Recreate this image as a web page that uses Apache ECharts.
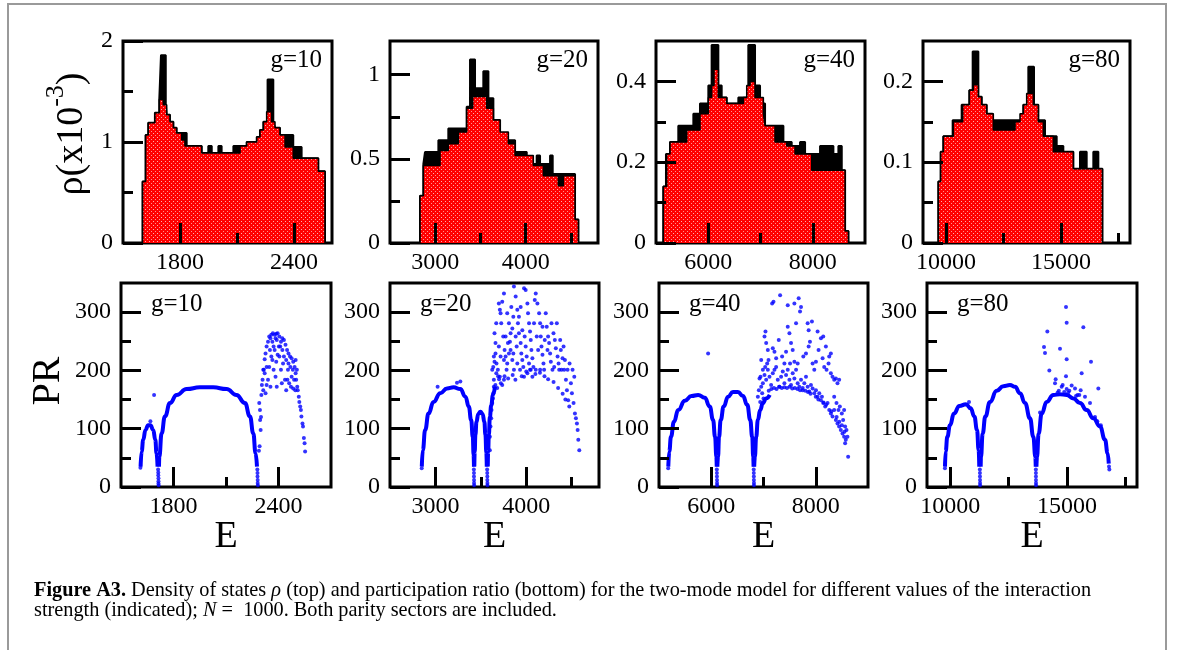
<!DOCTYPE html>
<html><head><meta charset="utf-8">
<script src="https://cdn.jsdelivr.net/npm/echarts@6/dist/echarts.min.js"></script>
<style>html,body{margin:0;padding:0;background:#fff}#c{width:1182px;height:650px}</style>
</head><body><div id="c"></div>
<script>
// ---------- tick labels ----------
const xTicksG10 = [1800, 2400], xMinorG10 = [2100];
const xTicksG20 = [3000, 4000], xMinorG20 = [3500, 4500];
const xTicksG40 = [6000, 8000], xMinorG40 = [7000];
const xTicksG80 = [10000, 15000], xMinorG80 = [12500, 17500];
const yTicksRho10 = [0, 1, 2], yMinorRho10 = [0.5, 1.5];
const yTicksRho20 = [0, 0.5, 1], yMinorRho20 = [0.25, 0.75];
const yTicksRho40 = [0, 0.2, 0.4], yMinorRho40 = [0.1, 0.3];
const yTicksRho80 = [0, 0.1, 0.2], yMinorRho80 = [0.05, 0.15];
const yTicksPR = [0, 100, 200, 300], yMinorPR = [50, 150, 250];
const panelLabels = ['g=10', 'g=20', 'g=40', 'g=80'];

// ---------- density of states (x10^-3), step histograms [left edge, height] ----------
const rhoRedG10 = [[1603,0.61],[1619,1.07],[1633,1.19],[1668,1.29],[1691,1.42],[1712,1.37],[1730,1.27],[1747,1.20],[1765,1.14],[1782,1.09],[1809,1.02],[1826,0.96],[1914,0.89],[2116,0.96],[2151,1.00],[2204,1.05],[2221,1.12],[2239,1.20],[2256,1.30],[2282,1.20],[2300,1.14],[2326,1.07],[2353,0.95],[2396,0.84],[2528,0.71],[2563,0]];
const rhoBlackG10 = [[1603,0.61],[1619,1.07],[1633,1.19],[1668,1.29],[1691,1.42],[1700,1.86],[1725,1.37],[1730,1.27],[1747,1.20],[1765,1.14],[1782,1.09],[1835,0.96],[1914,0.89],[1949,0.96],[1967,0.89],[2002,0.96],[2019,0.89],[2081,0.96],[2151,1.00],[2204,1.05],[2221,1.12],[2239,1.20],[2261,1.62],[2291,1.20],[2300,1.14],[2326,1.07],[2396,0.95],[2440,0.84],[2528,0.71],[2563,0]];
const rhoRedG20 = [[2832,0.28],[2869,0.46],[3053,0.55],[3145,0.59],[3256,0.66],[3348,0.80],[3414,0.87],[3569,0.80],[3643,0.73],[3717,0.66],[3809,0.59],[3883,0.52],[4085,0.46],[4196,0.40],[4362,0.34],[4417,0.40],[4546,0.14],[4583,0]];
const rhoBlackG20 = [[2832,0.28],[2869,0.47],[2887,0.54],[3035,0.61],[3145,0.68],[3348,0.81],[3385,1.09],[3440,0.92],[3532,1.02],[3588,0.86],[3643,0.73],[3717,0.61],[3883,0.54],[4012,0.47],[4122,0.52],[4159,0.47],[4270,0.52],[4299,0.41],[4546,0.14],[4583,0]];
const rhoRedG40 = [[5140,0.14],[5204,0.22],[5268,0.25],[5587,0.28],[5842,0.32],[6002,0.36],[6065,0.39],[6110,0.43],[6193,0.36],[6353,0.345],[6672,0.36],[6736,0.39],[6799,0.40],[6895,0.36],[7055,0.32],[7087,0.29],[7278,0.25],[7502,0.24],[7661,0.22],[7980,0.18],[8619,0.03],[8683,0]];
const rhoBlackG40 = [[5140,0.14],[5191,0.22],[5268,0.25],[5427,0.29],[5715,0.32],[5842,0.345],[6002,0.39],[6065,0.49],[6193,0.39],[6257,0.36],[6353,0.345],[6576,0.36],[6767,0.49],[6895,0.39],[6991,0.345],[7087,0.29],[7438,0.25],[7597,0.24],[7757,0.25],[7853,0.22],[8140,0.24],[8395,0.22],[8491,0.24],[8555,0.18],[8619,0.03],[8683,0]];
const rhoRedG80 = [[9667,0.076],[9768,0.113],[9884,0.132],[10319,0.150],[10725,0.171],[11015,0.189],[11189,0.196],[11406,0.181],[11551,0.171],[11768,0.160],[12058,0.140],[13000,0.150],[13217,0.160],[13362,0.171],[13507,0.185],[13797,0.171],[14014,0.150],[14232,0.132],[14667,0.113],[15536,0.092],[16800,0]];
const rhoBlackG80 = [[9667,0.076],[9768,0.113],[9884,0.132],[10290,0.152],[10681,0.171],[11015,0.189],[11160,0.237],[11406,0.181],[11551,0.171],[11768,0.160],[12029,0.152],[13000,0.152],[13362,0.171],[13580,0.218],[13826,0.171],[14014,0.152],[14304,0.132],[14812,0.120],[15101,0.113],[15536,0.092],[15826,0.113],[16116,0.092],[16406,0.113],[16623,0.092],[16800,0]];

// ---------- participation ratio: dense regular branches [E, PR] ----------
const prArcsG10 = [
  [[1612,35],[1618,61],[1627,81],[1640,98],[1655,106],[1668,106],[1684,98],[1696,81],[1703,58],[1709,35]],
  [[1717,35],[1719,52],[1732,92],[1751,121],[1780,144],[1818,158],[1875,168],[1951,171],[2027,171],[2103,168],[2160,158],[2208,144],[2237,121],[2256,92],[2269,58],[2277,35]]
];
const prArcsG20 = [
  [[2850,35],[2861,63],[2887,98],[2924,126],[2979,146],[3053,161],[3127,169],[3200,171],[3274,168],[3330,155],[3367,138],[3393,115],[3411,86],[3420,55],[3424,35]],
  [[3428,35],[3432,60],[3440,90],[3452,112],[3470,125],[3495,129],[3520,125],[3538,112],[3550,90],[3560,60],[3565,35]],
  [[3576,35],[3580,60],[3588,90],[3599,120],[3614,140],[3633,158],[3655,172]]
];
const prArcsG40 = [
  [[5178,35],[5197,61],[5229,86],[5286,112],[5368,132],[5495,148],[5622,156],[5749,158],[5876,153],[5971,138],[6035,115],[6073,86],[6098,52],[6105,35]],
  [[6117,35],[6130,52],[6149,86],[6181,115],[6238,138],[6321,155],[6416,163],[6511,163],[6606,156],[6689,141],[6746,115],[6784,86],[6803,52],[6810,35]],
  [[6822,35],[6835,52],[6860,86],[6892,115],[6937,132],[6987,144],[7051,152],[7120,158]]
];
const prArcsG80 = [
  [[9771,35],[9800,61],[9871,86],[9986,106],[10157,126],[10386,139],[10671,142],[10871,135],[11029,121],[11143,98],[11214,63],[11240,35]],
  [[11300,35],[11314,52],[11386,92],[11500,121],[11700,146],[11986,165],[12271,173],[12557,175],[12771,172],[12986,161],[13200,144],[13414,118],[13557,86],[13643,52],[13660,35]],
  [[13690,35],[13714,52],[13786,92],[13914,126],[14129,146],[14414,158],[14700,159],[14986,158],[15271,152],[15557,144],[15843,132],[16129,118],[16414,104],[16629,81],[16743,58],[16790,40]]
];

// ---------- participation ratio: individual states [E, PR] ----------
const prDotsG10 = [[1611,33],[1712,30],[1713,25],[1713,20],[1714,15],[1714,10],[1714,6],[1715,3],[2279,30],[2280,24],[2280,18],[2281,12],[2281,7],[2282,3],[1689,158],[1668,113],
[2290,144],[2294,132],[2298,98],[2302,158],[2305,175],[2309,184],[2313,201],[2316,201],[2321,219],[2326,229],[2332,241],[2340,249],[2347,258],[2354,255],[2359,261],[2368,264],[2378,261],[2387,263],[2395,264],[2405,258],[2383,255],[2365,249],[2372,241],[2390,252],[2402,241],[2414,249],[2422,255],[2431,252],[2440,244],[2449,235],[2457,229],[2466,224],[2475,221],[2484,215],[2492,206],[2498,195],[2501,184],[2507,172],[2510,166],[2516,155],[2519,146],[2524,138],[2528,132],[2531,121],[2537,109],[2540,104],[2545,84],[2549,75],[2552,61],
[2332,175],[2340,184],[2354,172],[2365,218],[2372,201],[2383,189],[2390,172],[2405,224],[2414,201],[2419,178],[2426,212],[2437,184],[2444,166],[2454,201],[2461,178],[2468,206],[2475,189],[2484,169],[2489,184],[2498,218],[2505,201],[2351,235],[2359,224],[2378,235],[2395,227],[2422,235],[2431,224],[2444,218],[2321,195],[2326,161],[2313,166],[2347,206],[2332,206],[2387,215],[2410,241],[2457,212],[2471,172],[2482,201],[2496,166],[2451,184],[2288,62],[2292,70],[2295,115],[2300,120]];
const prDotsG20 = [[2849,32],[3423,30],[3424,24],[3424,18],[3425,12],[3425,7],[3426,3],[3569,30],[3570,24],[3571,18],[3571,12],[3572,7],[3572,3],[3024,172],[3237,179],[3274,181],
[3599,63],[3599,86],[3606,104],[3614,118],[3617,132],[3625,144],[3632,152],[3636,161],[3643,172],[3643,184],[3625,201],[3636,206],[3650,215],[3643,224],[3661,229],[3650,264],[3669,281],[3661,247],
[3698,315],[3709,304],[3717,298],[3735,318],[3754,332],[3724,281],[3746,258],[3761,235],[3772,224],[3687,201],[3709,189],[3735,175],[3754,184],[3783,201],[3790,212],[3809,229],[3820,249],[3827,264],[3846,272],[3857,292],[3864,344],[3883,327],[3901,304],[3908,281],[3919,264],[3938,247],[3945,229],[3956,218],[3967,206],[3975,341],[3993,338],[4012,315],[4019,298],[4030,281],[4041,267],[4049,252],[4056,235],[4067,221],[4078,206],[4093,321],[4104,332],[4122,315],[4141,298],[4152,281],[4159,258],[4167,241],[4178,227],[4189,212],[4196,201],[4214,298],[4225,275],[4240,258],[4251,247],[4262,229],[4270,215],[4288,201],[4299,264],[4314,252],[4325,238],[4344,224],[4355,212],[4373,252],[4380,235],[4399,221],[4417,201],[4436,184],[4447,166],[4461,149],[4473,138],[4491,178],[4502,161],[4520,144],[4535,126],[4546,118],[4557,109],[4565,98],[4572,81],[4583,63],
[3790,298],[3809,281],[3827,235],[3846,218],[3864,201],[3883,258],[3894,241],[3919,292],[3938,309],[3956,269],[3982,258],[3993,241],[4004,224],[4030,212],[4049,201],[4085,281],[4115,258],[4130,235],[4152,201],[4178,275],[4203,252],[4233,235],[4277,281],[4307,206],[4336,281],[4362,201],[4388,201],[4410,241],[4425,218],[4454,201],[4476,212],[4509,201],[4528,189],[3717,224],[3698,241],[3754,218],[3672,212],[3772,258],[3798,247],[3835,309],[3857,229],[3901,212],[3931,201],[3975,189],[4012,195],[4041,201],[4067,189],[4104,201],
[3700,185],[3720,178],[3760,190],[3800,186],[3850,192],[3880,184],[3950,190],[4000,198],[4100,194],[4150,196],[4200,190],[4240,185],[4300,180],[4350,170],[4400,160],[4430,150],[3680,170],[3690,190],[3660,175],[3670,195]];
const prDotsG40 = [[5176,32],[6107,30],[6108,24],[6109,18],[6110,12],[6111,7],[6112,3],[6813,30],[6814,24],[6815,18],[6816,12],[6817,7],[6818,3],[5940,229],
[7318,329],[7165,315],[7191,318],[7464,312],[7591,315],[7673,324],[7718,309],[7699,301],[7623,281],[7845,281],[7927,284],[7864,269],[8035,267],[8099,255],[8143,258],[8194,241],[8258,224],[8289,229],[7038,267],[7019,258],[7051,247],[7083,235],[7096,218],[6956,218],[7178,238],[7210,232],[7242,221],[7292,252],[7464,275],[7496,264],[7527,247],[7559,235],[7432,232],[7356,224],[7400,212],[7508,212],[7591,215],[7654,212],[7762,224],[7813,229],[7864,241],[7889,249],[7940,212],[7972,201],[8004,215],[8054,235],[8131,221],[8162,206],[8207,201],[8245,212],[8289,195],[8321,189],[8353,184],[8385,186],[8416,178],[8448,184],[8353,155],[8397,144],[8435,132],[8461,138],[8499,126],[8524,115],[8543,132],[8562,104],[8588,98],[8607,86],[8575,81],[8562,75],[8620,52],
[6924,186],[6956,172],[6988,178],[7019,192],[7051,184],[7083,201],[7115,189],[7146,175],[7178,195],[7210,201],[7242,206],[7273,184],[7305,172],[7337,189],[7369,198],[7400,178],[7432,192],[7464,201],[7496,184],[7527,175],[7559,195],[7591,186],[7623,201],[7654,178],[7686,172],[7718,184],[7750,166],[7781,178],[7813,189],[7845,172],[7877,164],[7908,175],[7940,169],[7972,161],[8004,166],[8035,155],[8067,161],[8099,149],[8118,155],[8143,144],[8181,138],[8226,144],[8258,132],[8289,126],[8321,121],[8353,132],[8385,115],[8416,109],[8448,104],[8480,98],[8512,92],[8543,86],[6892,155],[6911,166],[6937,146],[6975,161],[7000,152],[6943,189],[6988,201],[7032,206],[7070,212],
[7100,165],[7150,168],[7200,170],[7250,168],[7300,172],[7350,170],[7400,171],[7450,170],[7500,172],[7550,169],[7600,170],[7650,168],[7700,166],[7750,170],[7800,165],[7850,163],[7900,160],[8000,155],[8050,150],[8150,145],[8200,141],[8300,130],[8400,120],[8450,112],[8500,106],[8550,95]];
const prDotsG80 = [[9769,32],[11265,30],[11268,24],[11270,18],[11272,12],[11273,7],[11275,3],[13665,30],[13667,24],[13669,18],[13670,12],[13671,7],[13672,3],[16800,35],[16814,30],[10800,146],
[14957,309],[14986,282],[14157,267],[15700,274],[14014,240],[14057,230],[14700,237],[14986,219],[14243,200],[16029,215],[15629,195],[14957,190],[14486,178],[14514,185],[14814,175],[14771,172],[14986,168],[15200,174],[15343,169],[15586,166],[16343,169],[15986,144],[13843,128],[15771,155],[15386,156],[15529,158],[14600,162],[14650,165],[14880,163],[15050,162],[15100,165],[15450,158],[16200,120],[16300,113],[16450,106]];

// ---------- layout ----------
const FONT = '"Liberation Serif","Times New Roman",serif';
const BLUE = '#0000ff';
const panels = [
  {box:[123,41,209,202], x:[1500,2600], xt:xTicksG10, xm:xMinorG10, y:[0,2], yt:yTicksRho10, ym:yMinorRho10, red:rhoRedG10, black:rhoBlackG10},
  {box:[390,41,208,202], x:[2500,4800], xt:xTicksG20, xm:xMinorG20, y:[0,1.2], yt:yTicksRho20, ym:yMinorRho20, red:rhoRedG20, black:rhoBlackG20},
  {box:[656,41,209,202], x:[5000,9000], xt:xTicksG40, xm:xMinorG40, y:[0,0.5], yt:yTicksRho40, ym:yMinorRho40, red:rhoRedG40, black:rhoBlackG40},
  {box:[923,41,207,202], x:[9000,18000], xt:xTicksG80, xm:xMinorG80, y:[0,0.25], yt:yTicksRho80, ym:yMinorRho80, red:rhoRedG80, black:rhoBlackG80},
  {box:[121,283,210,204], x:[1500,2700], xt:xTicksG10, xm:xMinorG10, y:[0,350], yt:yTicksPR, ym:yMinorPR, arcs:prArcsG10, dots:prDotsG10},
  {box:[390,283,209,204], x:[2500,4800], xt:xTicksG20, xm:xMinorG20, y:[0,350], yt:yTicksPR, ym:yMinorPR, arcs:prArcsG20, dots:prDotsG20},
  {box:[659,283,209,204], x:[5000,9000], xt:xTicksG40, xm:xMinorG40, y:[0,350], yt:yTicksPR, ym:yMinorPR, arcs:prArcsG40, dots:prDotsG40},
  {box:[927,283,210,204], x:[9000,18000], xt:xTicksG80, xm:xMinorG80, y:[0,350], yt:yTicksPR, ym:yMinorPR, arcs:prArcsG80, dots:prDotsG80}
];

function makePattern() {
  const c = document.createElement('canvas'); c.width = 4; c.height = 4;
  const g = c.getContext('2d');
  g.fillStyle = '#ff0000'; g.fillRect(0, 0, 4, 4);
  g.fillStyle = '#ffb0b0'; g.fillRect(1, 1, 1, 1);
  g.fillStyle = '#ff9090'; g.fillRect(3, 3, 1, 1);
  return c;
}
const pattern = {image: makePattern(), repeat: 'repeat'};
function withBase(steps) { return [[steps[0][0], 0]].concat(steps); }
const plain = v => String(v);

const grids = [], xAxes = [], yAxes = [], series = [];
panels.forEach((p, i) => {
  grids.push({left:p.box[0], top:p.box[1], width:p.box[2], height:p.box[3], show:true, borderColor:'#000', borderWidth:3, backgroundColor:'rgba(0,0,0,0)', containLabel:false});
  const lab = {color:'#000', fontFamily:FONT, fontSize:24, margin:8, formatter:plain};
  xAxes.push({gridIndex:i, type:'value', position:'bottom', min:p.x[0], max:p.x[1], z:10,
    axisLine:{show:false}, splitLine:{show:false},
    axisTick:{show:true, inside:true, length:20, lineStyle:{color:'#000', width:3}, customValues:p.xt},
    axisLabel:Object.assign({customValues:p.xt}, lab)});
  xAxes.push({gridIndex:i, type:'value', position:'bottom', min:p.x[0], max:p.x[1], z:10,
    axisLine:{show:false}, splitLine:{show:false},
    axisTick:{show:true, inside:true, length:10, lineStyle:{color:'#000', width:3}, customValues:p.xm},
    axisLabel:{show:false}});
  yAxes.push({gridIndex:i, type:'value', position:'left', min:p.y[0], max:p.y[1], z:10,
    axisLine:{show:false}, splitLine:{show:false},
    axisTick:{show:true, inside:true, length:20, lineStyle:{color:'#000', width:3}, customValues:p.yt},
    axisLabel:Object.assign({customValues:p.yt}, lab, {margin:10})});
  yAxes.push({gridIndex:i, type:'value', position:'left', min:p.y[0], max:p.y[1], z:10,
    axisLine:{show:false}, splitLine:{show:false},
    axisTick:{show:true, inside:true, length:10, lineStyle:{color:'#000', width:3}, customValues:p.ym},
    axisLabel:{show:false}});
  const xi = 2 * i, yi = 2 * i;
  if (p.red) {
    series.push({type:'line', xAxisIndex:xi, yAxisIndex:yi, data:withBase(p.black), step:'end', symbol:'none',
      lineStyle:{color:'#000', width:2}, areaStyle:{color:'#000', opacity:1}, z:2});
    series.push({type:'line', xAxisIndex:xi, yAxisIndex:yi, data:withBase(p.red), step:'end', symbol:'none',
      lineStyle:{color:'#000', width:1.5}, areaStyle:{color:pattern, opacity:1}, z:3});
  } else {
    p.arcs.forEach(a => series.push({type:'line', xAxisIndex:xi, yAxisIndex:yi, data:a, smooth:0.5, smoothMonotone:'x',
      symbol:'none', lineStyle:{color:BLUE, width:4}, z:3}));
    series.push({type:'scatter', xAxisIndex:xi, yAxisIndex:yi, data:p.dots, symbol:'circle', symbolSize:4,
      itemStyle:{color:BLUE}, z:4});
  }
});

const graphics = [
  {type:'rect', shape:{x:8, y:4, width:1158, height:660}, style:{fill:'none', stroke:'#9a9a9a', lineWidth:2}, silent:true},
  {type:'text', x:72, y:134, rotation:Math.PI/2, style:{text:'{a|ρ(x10}{s|-3}{a|)}', align:'center', verticalAlign:'middle',
    rich:{a:{fontFamily:FONT, fontSize:38, lineHeight:58, fill:'#000'}, s:{fontFamily:FONT, fontSize:26, lineHeight:24, verticalAlign:'top', fill:'#000'}}}},
  {type:'text', x:48, y:381, rotation:Math.PI/2, style:{text:'PR', font:'40px ' + FONT, fill:'#000', align:'center', verticalAlign:'middle'}}
];
panels.forEach((p, i) => {
  const lbl = panelLabels[i % 4];
  if (i < 4) {
    graphics.push({type:'text', x:p.box[0] + p.box[2] - 10, y:60, style:{text:lbl, font:'25px ' + FONT, fill:'#000', align:'right', verticalAlign:'middle'}});
  } else {
    graphics.push({type:'text', x:p.box[0] + 30, y:304, style:{text:lbl, font:'25px ' + FONT, fill:'#000', align:'left', verticalAlign:'middle'}});
    graphics.push({type:'text', x:p.box[0] + p.box[2] / 2, y:537, style:{text:'E', font:'38px ' + FONT, fill:'#000', align:'center', verticalAlign:'middle'}});
  }
});
const CAP = 20.3;
const capRich = {b:{fontFamily:FONT, fontSize:CAP, fontWeight:'bold', fill:'#000'}, i:{fontFamily:FONT, fontSize:CAP, fontStyle:'italic', fill:'#000'}};
graphics.push({type:'text', x:34, y:591, style:{text:'{b|Figure A3.} Density of states {i|ρ} (top) and participation ratio (bottom) for the two-mode model for different values of the interaction',
  fontFamily:FONT, fontSize:CAP, fill:'#000', align:'left', verticalAlign:'middle', rich:capRich}});
graphics.push({type:'text', x:34, y:611, style:{text:'strength (indicated); {i|N} =  1000. Both parity sectors are included.',
  fontFamily:FONT, fontSize:CAP, fill:'#000', align:'left', verticalAlign:'middle', rich:capRich}});

const chart = echarts.init(document.getElementById('c'), null, {renderer:'canvas'});
chart.setOption({animation:false, backgroundColor:'#fff', grid:grids, xAxis:xAxes, yAxis:yAxes, series:series, graphic:graphics});
</script></body></html>
